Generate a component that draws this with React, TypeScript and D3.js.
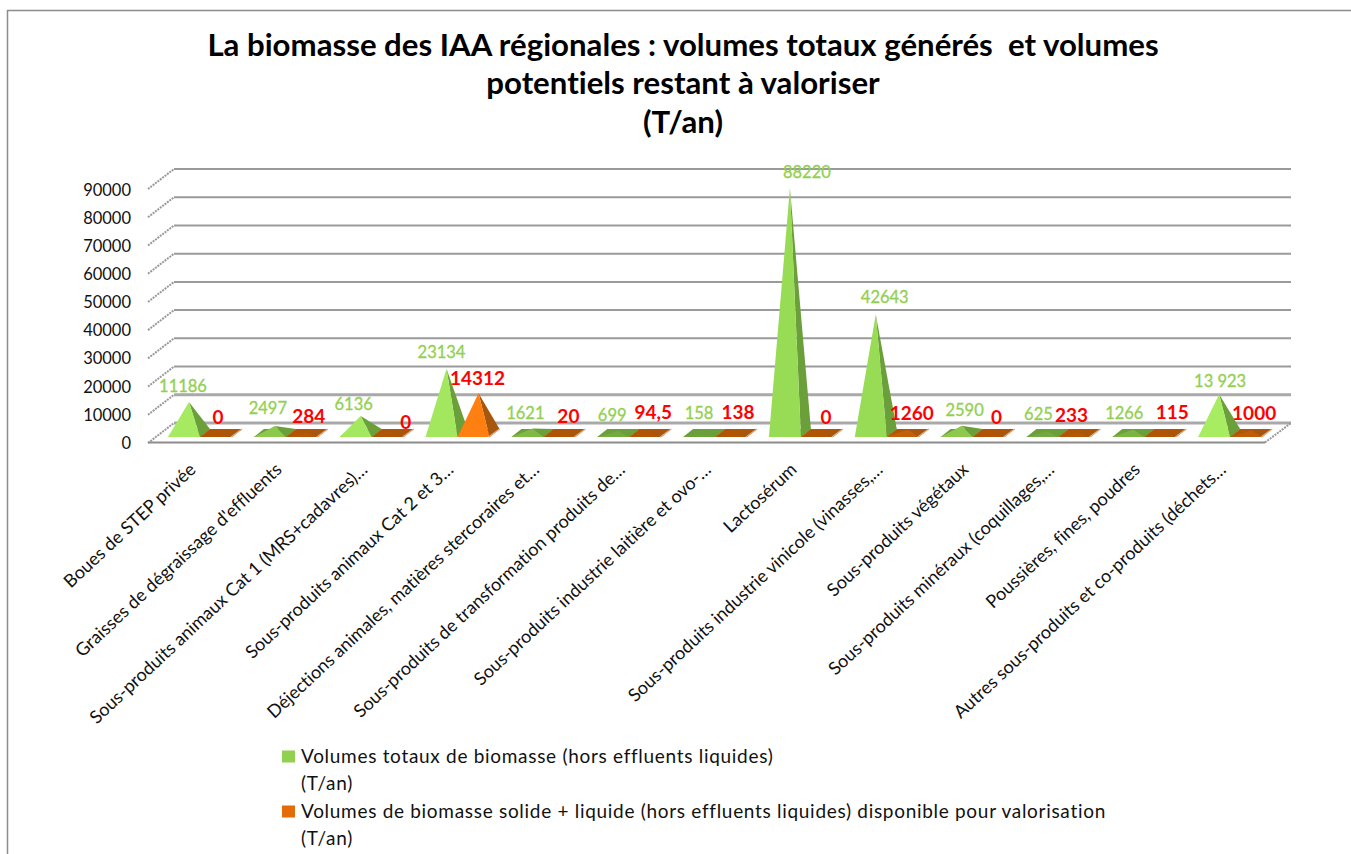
import React, { useEffect, useRef } from "react";
import * as d3 from "d3";

const titleLines = [
  "La biomasse des IAA régionales : volumes totaux générés  et volumes",
  "potentiels restant à valoriser",
  "(T/an)",
];

const categories = [
  "Boues de STEP privée",
  "Graisses de dégraissage d'effluents",
  "Sous-produits animaux Cat 1 (MRS+cadavres)…",
  "Sous-produits animaux Cat 2 et 3…",
  "Déjections animales, matières stercoraires et…",
  "Sous-produits de transformation produits de…",
  "Sous-produits industrie laitière et ovo-…",
  "Lactosérum",
  "Sous-produits industrie vinicole (vinasses,…",
  "Sous-produits végétaux",
  "Sous-produits minéraux (coquillages,…",
  "Poussières, fines, poudres",
  "Autres sous-produits et co-produits (déchets…",
];

const totalValues = [11186, 2497, 6136, 23134, 1621, 699, 158, 88220, 42643, 2590, 625, 1266, 13923];
const availableValues = [0, 284, 0, 14312, 20, 94.5, 138, 0, 1260, 0, 233, 115, 1000];

const totalLabels = ["11186", "2497", "6136", "23134", "1621", "699", "158", "88220", "42643", "2590", "625", "1266", "13 923"];
const availableLabels = ["0", "284", "0", "14312", "20", "94,5", "138", "0", "1260", "0", "233", "115", "1000"];

const yTicks = [0, 10000, 20000, 30000, 40000, 50000, 60000, 70000, 80000, 90000];

const legendTotal = ["Volumes totaux de biomasse (hors effluents liquides)", "(T/an)"];
const legendAvailable = ["Volumes de biomasse solide + liquide (hors effluents liquides) disponible pour valorisation", "(T/an)"];

// the labels were moved by hand in the original chart, offsets from each peak
const totalNudge = [[-6, -16], [-7, -18], [-7, -12], [-5, -17], [-7, -15], [-6, -16], [-5, -19], [17, -16], [9, -17], [3, -16], [-9, -17], [-9, -16], [1, -13]];
const availableNudge = [[-3, -16], [2, -16], [13, -11], [-1, -15], [4, -17], [3, -20], [2, -20], [4, -16], [4, -16], [3, -16], [-8, -17], [7, -20], [3, -17]];

const FONT = "Lato, sans-serif";
const W = 1351;
const H = 854;
const DEPTH_X = 10;
const DEPTH_Y = 8;
const BASE_FRONT = 437;
const BASE_MID = 433;

export default function App() {
  const svgRef = useRef<SVGSVGElement>(null);

  useEffect(() => {
    const svg = d3.select(svgRef.current);
    svg.selectAll("*").remove();

    // border of the chart area
    svg.append("path")
      .attr("d", `M${W},10.5H7.5V${H}`)
      .attr("fill", "none")
      .attr("stroke", "#8c8c8c")
      .attr("stroke-width", 1.5);

    svg.selectAll(".title")
      .data(titleLines)
      .enter()
      .append("text")
      .attr("class", "title")
      .attr("x", 683)
      .attr("y", (d, i) => 55.5 + i * 38.5)
      .attr("text-anchor", "middle")
      .attr("font-family", FONT)
      .attr("font-weight", 700)
      .attr("font-size", 31.2)
      .style("white-space", "pre")
      .style("font-variant-ligatures", "none")
      .text((d) => d);

    const x0 = d3.scaleBand().domain(categories).range([152, 1268]);
    const x1 = d3.scaleBand().domain(["total", "available"]).range([16, 80]);
    const wall = d3.scaleLinear().domain([0, 90000]).range([423, 169]);
    const axisY = d3.scaleLinear().domain([0, 90000]).range([443, 190]);
    const peak = d3.scaleLinear().domain([0, 90000]).range([BASE_MID, BASE_MID - 250]);

    // side wall ticks
    svg.selectAll(".side")
      .data(yTicks)
      .enter()
      .append("line")
      .attr("class", "side")
      .attr("x1", 148)
      .attr("x2", 174)
      .attr("y1", (d) => wall(d) + 20)
      .attr("y2", (d) => wall(d))
      .attr("stroke", "#999")
      .attr("stroke-width", 2)
      .attr("stroke-dasharray", "2 1");

    svg.selectAll(".grid")
      .data(yTicks)
      .enter()
      .append("line")
      .attr("class", "grid")
      .attr("x1", 174)
      .attr("x2", 1291)
      .attr("y1", (d) => wall(d))
      .attr("y2", (d) => wall(d))
      .attr("stroke", (d) => (d <= 10000 ? "#a9a9a9" : "#9a9a9a"))
      .attr("stroke-width", (d) => (d <= 10000 ? 3 : 2));

    svg.append("line")
      .attr("x1", 148).attr("x2", 1265)
      .attr("y1", 442.5).attr("y2", 442.5)
      .attr("stroke", "#8c8c8c")
      .attr("stroke-width", 2);
    svg.append("line")
      .attr("x1", 1265).attr("x2", 1291)
      .attr("y1", 442.5).attr("y2", 423)
      .attr("stroke", "#999")
      .attr("stroke-width", 2)
      .attr("stroke-dasharray", "2 1");

    // y axis
    const yAxis = d3.axisLeft(axisY).tickValues(yTicks).tickFormat(d3.format("d")).tickSize(0).tickPadding(0);
    const axisG = svg.append("g").attr("transform", "translate(131,0)").call(yAxis);
    axisG.select(".domain").remove();
    axisG.selectAll("text")
      .attr("font-family", FONT)
      .attr("font-size", 16.5)
      .attr("fill", "#111");

    // x labels
    svg.selectAll(".cat")
      .data(categories)
      .enter()
      .append("text")
      .attr("class", "cat")
      .attr("text-anchor", "end")
      .attr("font-family", FONT)
      .attr("font-size", 18)
      .attr("fill", "#111")
      .style("font-variant-ligatures", "none")
      .attr("transform", (d) => `translate(${x0(d) + 45},471) rotate(-43)`)
      .text((d) => d);

    const greenFront = d3.scaleLinear<string>().domain([0, 2500, 6000, 15000, 40000]).range(["#6a9f3a", "#8cc84b", "#a4e85f", "#a8ec62", "#98dc55"]).clamp(true);
    const orangeFront = d3.scaleLinear<string>().domain([0, 1300, 14000]).range(["#b05505", "#c45f08", "#ff7f11"]).clamp(true);

    const drawPyramid = (left: number, value: number, base: string, side: string, front: string) => {
      const right = left + x1.bandwidth();
      const g = svg.append("g");
      const apexX = (left + right + DEPTH_X) / 2;
      const apexY = peak(value);
      const poly = (pts: number[][], fill: string) =>
        g.append("polygon").attr("points", pts.map((p) => p.join(",")).join(" ")).attr("fill", fill);
      poly([[left, BASE_FRONT], [right, BASE_FRONT], [right + DEPTH_X, BASE_FRONT - DEPTH_Y], [left + DEPTH_X, BASE_FRONT - DEPTH_Y]], base);
      poly([[right, BASE_FRONT], [right + DEPTH_X, BASE_FRONT - DEPTH_Y], [apexX, apexY]], side);
      poly([[left, BASE_FRONT], [right, BASE_FRONT], [apexX, apexY]], front);
    };

    categories.forEach((c, i) => {
      const gx = x0(c) + x1("total");
      const ox = x0(c) + x1("available");
      drawPyramid(gx, totalValues[i], "#6a9f3a", "#6a9f3a", greenFront(totalValues[i]));
      drawPyramid(ox, availableValues[i], "#b05505", "#a8560c", orangeFront(availableValues[i]));
      svg.append("line")
        .attr("x1", ox + x1.bandwidth() - 1).attr("y1", BASE_FRONT)
        .attr("x2", ox + x1.bandwidth() + DEPTH_X).attr("y2", BASE_FRONT - DEPTH_Y)
        .attr("stroke", "#dcae8a")
        .attr("stroke-width", 1.5);
    });

    // data labels
    categories.forEach((c, i) => {
      const gx = x0(c) + x1("total") + (x1.bandwidth() + DEPTH_X) / 2;
      const ox = x0(c) + x1("available") + (x1.bandwidth() + DEPTH_X) / 2;
      svg.append("text")
        .attr("x", gx + totalNudge[i][0])
        .attr("y", peak(totalValues[i]) + totalNudge[i][1])
        .attr("dy", "0.35em")
        .attr("text-anchor", "middle")
        .attr("font-family", FONT)
        .attr("font-size", 16.5)
        .attr("fill", "#92d050")
        .attr("stroke", "#92d050")
        .attr("stroke-width", 0.3)
        .text(totalLabels[i]);
      svg.append("text")
        .attr("x", ox + availableNudge[i][0])
        .attr("y", peak(availableValues[i]) + availableNudge[i][1])
        .attr("dy", "0.35em")
        .attr("text-anchor", "middle")
        .attr("font-family", FONT)
        .attr("font-weight", 700)
        .attr("font-size", 19)
        .attr("fill", "#ff0000")
        .text(availableLabels[i]);
    });

    // legend
    const legend = [
      { lines: legendTotal, color: "#92d050", y: 756 },
      { lines: legendAvailable, color: "#e36c09", y: 811 },
    ];
    legend.forEach((l) => {
      svg.append("rect")
        .attr("x", 282).attr("y", l.y - 5.5)
        .attr("width", 13).attr("height", 12)
        .attr("fill", l.color);
      l.lines.forEach((t, i) => {
        svg.append("text")
          .attr("x", 301)
          .attr("y", l.y + i * 27)
          .attr("dy", "0.35em")
          .attr("font-family", FONT)
          .attr("font-size", 19)
          .attr("letter-spacing", 0.7)
          .attr("fill", "#111")
          .style("font-variant-ligatures", "none")
          .text(t);
      });
    });
  }, []);

  return (
    <svg
      ref={svgRef}
      width={W}
      height={H}
      style={{ position: "absolute", left: 0, top: 0, background: "#fff" }}
    />
  );
}
